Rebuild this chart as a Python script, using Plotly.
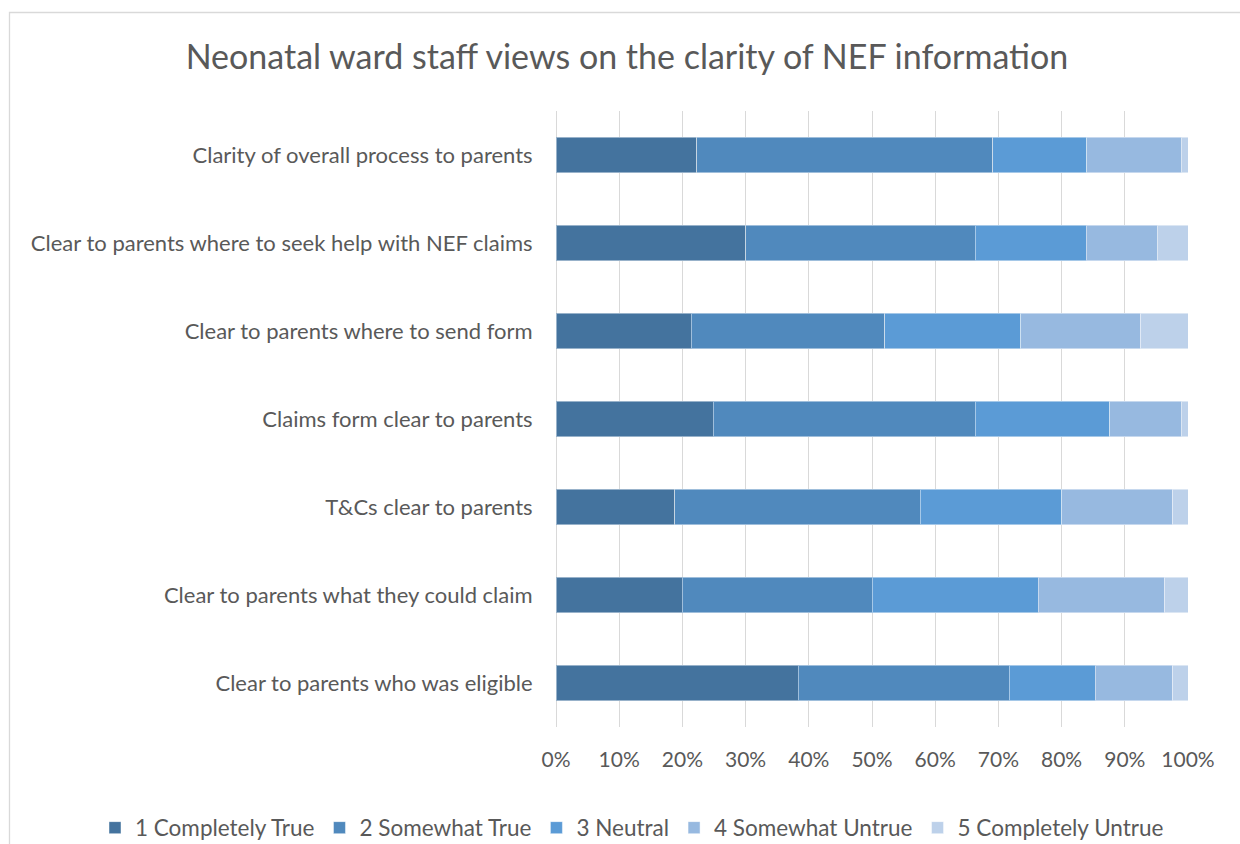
import plotly.graph_objects as go

categories = [
    "Clarity of overall process to parents",
    "Clear to parents where to seek help with NEF claims",
    "Clear to parents where to send form",
    "Claims form clear to parents",
    "T&Cs clear to parents",
    "Clear to parents what they could claim",
    "Clear to parents who was eligible",
]
series_names = ["1 Completely True", "2 Somewhat True", "3 Neutral",
                "4 Somewhat Untrue", "5 Completely Untrue"]
completely_true = [22.3, 30.0, 21.4, 24.9, 18.8, 20.0, 38.3]
somewhat_true = [46.8, 36.3, 30.6, 41.4, 38.8, 30.0, 33.4]
neutral = [14.9, 17.6, 21.5, 21.3, 22.4, 26.3, 13.6]
somewhat_untrue = [14.9, 11.2, 19.0, 11.3, 17.6, 20.0, 12.3]
completely_untrue = [1.1, 4.9, 7.5, 1.1, 2.4, 3.7, 2.4]
tick_values = [0, 10, 20, 30, 40, 50, 60, 70, 80, 90, 100]
tick_labels = [f"{v}%" for v in tick_values]

colors = ["#44739e", "#5089bd", "#5b9bd6", "#97b9e0", "#bdd1ea"]
series_values = [completely_true, somewhat_true, neutral, somewhat_untrue, completely_untrue]

FONT = "Lato"
TXT = "#595959"

fig = go.Figure()
for name, vals, col in zip(series_names, series_values, colors):
    fig.add_trace(go.Bar(
        y=categories, x=vals, name=name, orientation="h",
        marker=dict(color=col, line=dict(color="rgba(255,255,255,0.45)", width=1)),
    ))

W, H = 1240, 844
L, R, T, B = 556, 1188, 111, 727

fig.update_layout(
    width=W, height=H,
    margin=dict(l=L, r=W - R, t=T, b=H - B, autoexpand=False),
    barmode="stack", bargap=0.6,
    plot_bgcolor="white", paper_bgcolor="white",
    font=dict(family=FONT, color=TXT, size=21),
    title=dict(text="Neonatal ward staff views on the clarity of NEF information",
               x=627 / W, xanchor="center", y=1 - 57 / H, yanchor="middle",
               font=dict(family=FONT, size=34, color=TXT)),
    legend=dict(orientation="h", xref="paper", x=(95 - L) / (R - L), xanchor="left",
                yref="paper", y=(B - 828) / (B - T), yanchor="middle",
                font=dict(family=FONT, size=22.5, color=TXT),
                traceorder="normal", itemwidth=30),
    showlegend=True,
    shapes=[dict(type="rect", xref="paper", yref="paper",
                 x0=(9.5 - L) / (R - L), x1=(1300 - L) / (R - L),
                 y0=(B - 900) / (B - T), y1=(B - 12.5) / (B - T),
                 line=dict(color="#d9d9d9", width=1.3), fillcolor="rgba(0,0,0,0)",
                 layer="below")],
)
fig.update_xaxes(range=[0, 100], tickmode="array", tickvals=tick_values, ticktext=tick_labels,
                 showgrid=True, gridcolor="#d9d9d9", gridwidth=1.3,
                 zeroline=True, zerolinecolor="#d9d9d9", zerolinewidth=1.3,
                 ticks="outside", ticklen=14, tickcolor="rgba(0,0,0,0)",
                 tickfont=dict(family=FONT, size=21, color=TXT), fixedrange=True,
                 automargin=False)
fig.update_yaxes(autorange="reversed", showgrid=False,
                 ticks="outside", ticklen=18, tickcolor="rgba(0,0,0,0)",
                 tickfont=dict(family=FONT, size=22, color=TXT), fixedrange=True,
                 automargin=False)

fig.write_html("out.html")
